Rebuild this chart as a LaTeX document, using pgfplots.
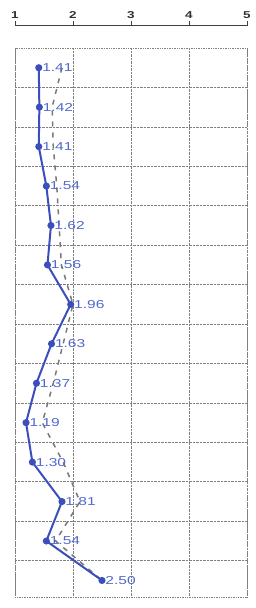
\documentclass[border=0pt]{standalone}
\usepackage{pgfplots}
\pgfplotsset{compat=1.18}
\usepackage{fontspec}
\setmainfont{Liberation Sans}
\newfontfamily\labelfont[FakeStretch=1.35]{Liberation Sans}
\definecolor{blueline}{RGB}{60,78,188}
\definecolor{bluetext}{RGB}{82,104,205}
\definecolor{grayline}{RGB}{120,120,120}
\begin{document}
\begin{tikzpicture}
\useasboundingbox (-15pt,-11pt) rectangle (241pt,597pt);
\begin{axis}[
  name=main,
  at={(0,0)}, anchor=south west,
  scale only axis, width=232pt, height=549pt,
  xmin=1, xmax=5, ymin=0.5, ymax=14.42, y dir=reverse,
  xtick={1,2,3,4,5}, ytick={1.5,2.5,...,13.5},
  xticklabels={}, yticklabels={},
  major tick length=0pt,
  grid=major,
  grid style={densely dotted, black!50, line width=0.7pt},
  axis line style={densely dotted, black!50, line width=0.7pt},
  clip=false,
]
\addplot[grayline, line width=1.5pt, dash pattern=on 5pt off 6pt] coordinates {
(1.81,1) (1.64,2) (1.66,3) (1.72,4) (1.76,5) (1.80,6) (2.00,7)
(1.83,8) (1.66,9) (1.47,10) (1.83,11) (2.12,12) (1.70,13) (2.50,14)};
\addplot[blueline, line width=2pt, mark=*, mark size=2.5pt,
  point meta=x,
  nodes near coords,
  every node near coord/.append style={anchor=west, inner sep=2pt, xshift=0.5pt, font=\labelfont\fontsize{11.5}{12}\selectfont, text=bluetext,
    /pgf/number format/fixed, /pgf/number format/fixed zerofill, /pgf/number format/precision=2, /pgf/number format/assume math mode=true},
] coordinates {
(1.41,1) (1.42,2) (1.41,3) (1.54,4) (1.62,5) (1.56,6) (1.96,7)
(1.63,8) (1.37,9) (1.19,10) (1.30,11) (1.81,12) (1.54,13) (2.50,14)};
\end{axis}
\begin{axis}[
  at={(0,570pt)}, anchor=south west,
  scale only axis, width=232pt, height=1pt,
  xmin=1, xmax=5, ymin=0, ymax=1,
  axis x line=top, axis y line=none,
  x axis line style={-, line width=1pt, black!75},
  xtick={1,2,3,4,5},
  tick align=outside,
  major tick length=5pt,
  tick style={black!75, line width=0.9pt},
  xticklabel style={font=\labelfont\fontsize{10}{11}\selectfont\bfseries, text=black!80, inner sep=2pt},
  /pgf/number format/assume math mode=true,
]
\addplot[draw=none] coordinates {(1,0)};
\end{axis}
\end{tikzpicture}
\end{document}
